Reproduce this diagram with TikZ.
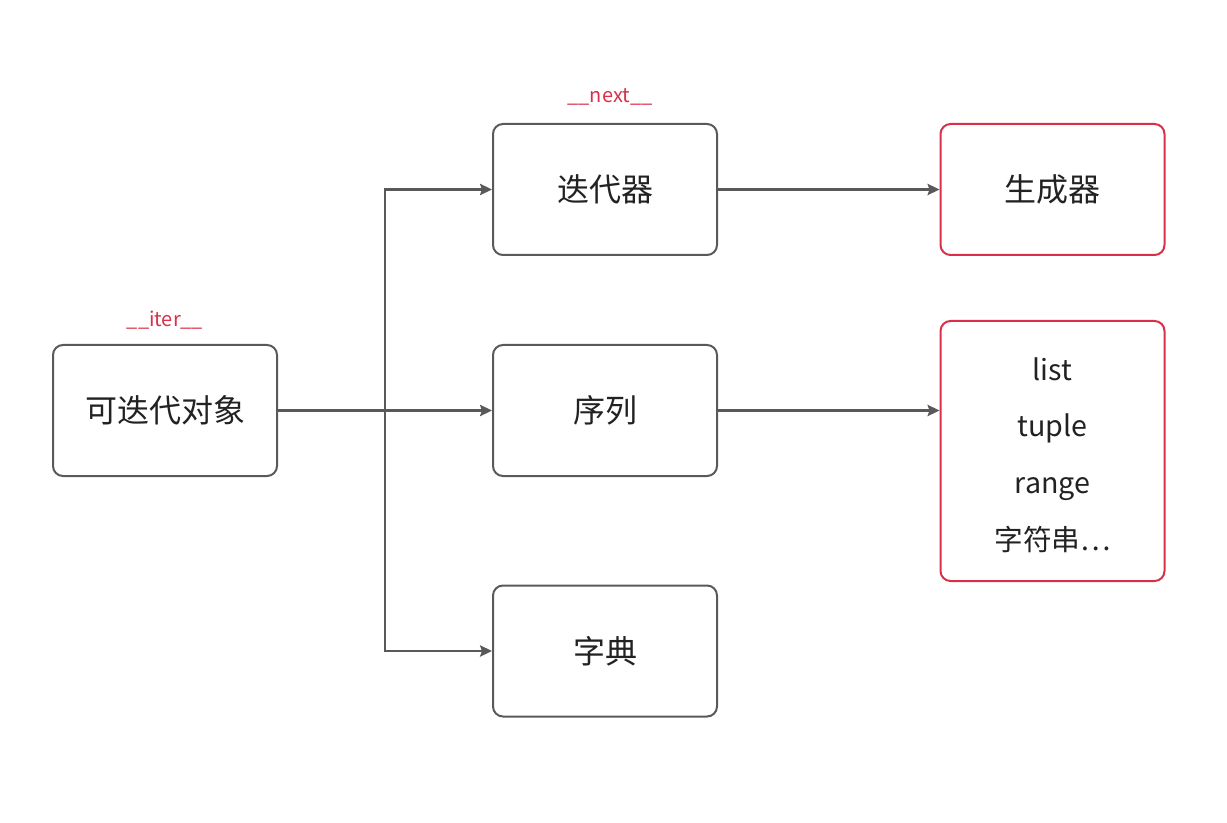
\documentclass[tikz,border=0pt]{standalone}
\usepackage{fontspec}
\newfontfamily\cjk{Noto Sans CJK SC}
\usepackage{tikz}
\usetikzlibrary{arrows.meta}

\definecolor{linegray}{RGB}{89,89,89}
\definecolor{boxred}{RGB}{217,48,72}
\definecolor{textdark}{RGB}{34,34,34}

\tikzset{
  box/.style={draw=linegray, line width=1.5pt, rounded corners=7.5pt, minimum width=168pt, minimum height=98.25pt, inner sep=0pt, text=textdark, font=\cjk\fontsize{24}{28}\selectfont},
  redbox/.style={box, draw=boxred},
  tag/.style={inner sep=0.75pt, text=boxred, font=\cjk\fontsize{15}{18}\selectfont},
  arr/.style={draw=linegray, line width=1.6pt, -{Stealth[length=9pt,width=8.5pt,inset=1.5pt]}}
}

\begin{document}
\begin{tikzpicture}[x=0.75pt,y=0.75pt,yscale=-1]
\useasboundingbox (0,0) rectangle (1227,823);

%Shape: Boxes
\node [box] (iterable) at (165,410.5) {可迭代对象};
\node [box] (iterator) at (605,189.5) {迭代器};
\node [box] (sequence) at (605,410.5) {序列};
\node [box] (dict) at (605,651) {字典};
\node [redbox] (generator) at (1052.5,189.5) {生成器};
\node [redbox, minimum height=195pt] (examples) at (1052.5,451) {};

% Text Node
\node [align=center, text=textdark, font=\cjk\fontsize{21.5}{42.4}\selectfont] (exampletext) at (1052.5,455) {list\\tuple\\range\\字符串…};
% Text Node
\node [tag] (iterlabel) at (165,320) {\_\_iter\_\_};
% Text Node
\node [tag] (nextlabel) at (610,97) {\_\_next\_\_};

%Connectors
\coordinate (split) at (385,410.5);
\draw [arr] (iterable.east) -- (split) |- (iterator.west);
\draw [arr] (split) -- (sequence.west);
\draw [arr] (split) |- (dict.west);
\draw [arr] (iterator.east) -- (generator.west);
\draw [arr] (sequence.east) -- (examples.west |- sequence.east);

\end{tikzpicture}
\end{document}
